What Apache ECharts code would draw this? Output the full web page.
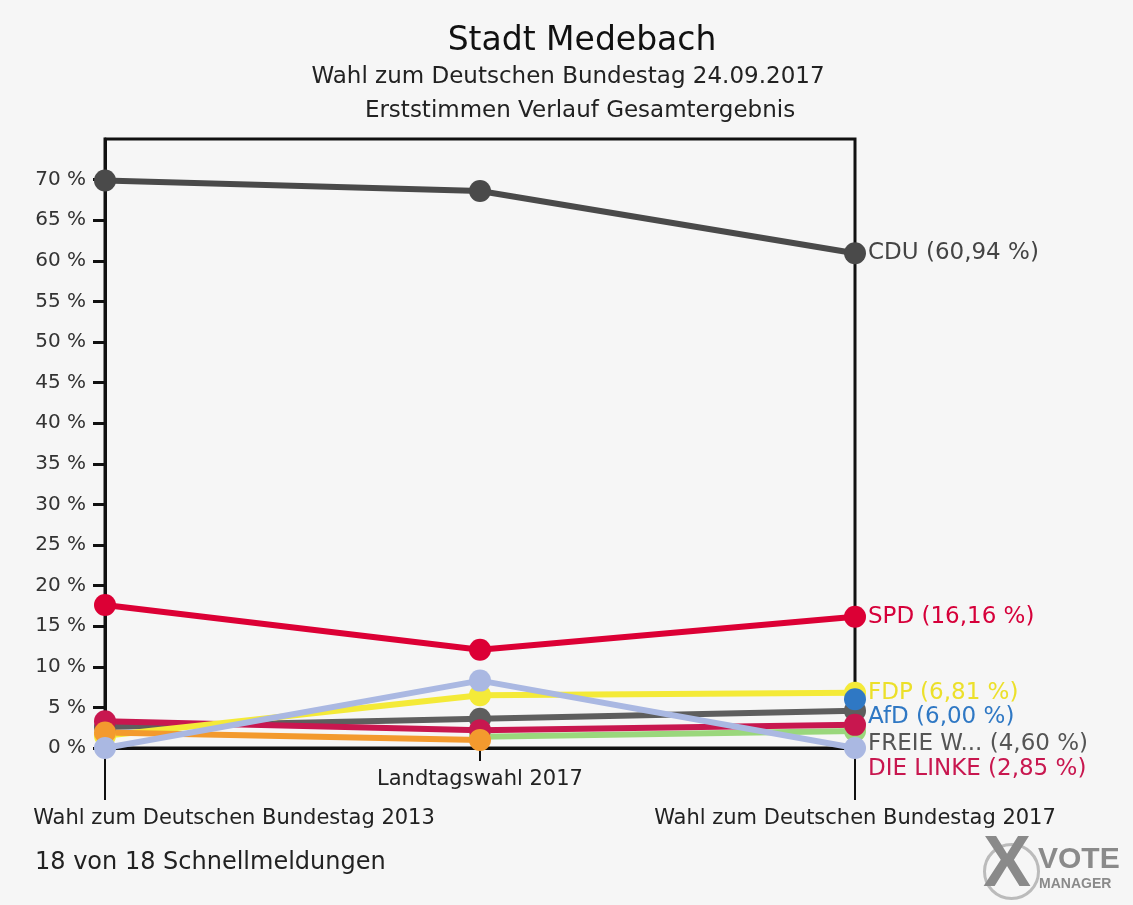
<!DOCTYPE html>
<html>
<head>
<meta charset="utf-8">
<script src="https://cdn.jsdelivr.net/npm/echarts@6/dist/echarts.min.js"></script>
<style>
  html, body { margin: 0; padding: 0; background: #f6f6f6; }
  #main { width: 1133px; height: 905px; }
</style>
</head>
<body>
<div id="main"></div>
<script>
// Wahlen (x-Achse)
var categories = ['Wahl zum Deutschen Bundestag 2013', 'Landtagswahl 2017', 'Wahl zum Deutschen Bundestag 2017'];
var yTicks = [0, 5, 10, 15, 20, 25, 30, 35, 40, 45, 50, 55, 60, 65, 70];

// Erststimmen in %
var cdu      = [69.9, 68.6, 60.94];
var spd      = [17.6, 12.1, 16.16];
var gruene   = [null, 1.4, 2.1];
var freieW   = [2.6, 3.6, 4.60];
var linke    = [3.3, 2.2, 2.85];
var fdp      = [1.5, 6.5, 6.81];
var afd      = [null, null, 6.00];
var orange   = [1.9, 1.0, null];
var piraten  = [0, 8.3, 0];

var myChart = echarts.init(document.getElementById('main'));
var font = 'DejaVu Sans, Liberation Sans, sans-serif';

function fmt(v) {
    return v.toFixed(2).replace('.', ',') + ' %';
}

function line(name, data, color, labelName, labelColor, offsetY) {
    var s = {
        name: name,
        type: 'line',
        data: data,
        symbol: 'circle',
        symbolSize: 22,
        lineStyle: { color: color, width: 6 },
        itemStyle: { color: color },
        connectNulls: false,
        animation: false
    };
    if (labelName) {
        s.endLabel = {
            show: true,
            formatter: function (p) { return labelName + ' (' + fmt(p.value) + ')'; },
            color: labelColor || color,
            fontFamily: font,
            fontSize: 23,
            distance: 13,
            offset: [0, offsetY || 0]
        };
    }
    return s;
}

var option = {
    backgroundColor: '#f6f6f6',
    textStyle: { fontFamily: font },
    title: [{
        text: 'Stadt Medebach',
        left: 577, top: 20, textAlign: 'center',
        textStyle: { fontSize: 33, fontWeight: 'normal', color: '#111', fontFamily: font }
    }, {
        text: 'Wahl zum Deutschen Bundestag 24.09.2017',
        left: 563, top: 61, textAlign: 'center',
        textStyle: { fontSize: 23, fontWeight: 'normal', color: '#222', fontFamily: font }
    }, {
        text: 'Erststimmen Verlauf Gesamtergebnis',
        left: 575, top: 95, textAlign: 'center',
        textStyle: { fontSize: 23, fontWeight: 'normal', color: '#222', fontFamily: font }
    }, {
        text: '18 von 18 Schnellmeldungen',
        left: 30, top: 846,
        textStyle: { fontSize: 24, fontWeight: 'normal', color: '#222', fontFamily: font }
    }],
    grid: {
        left: 105, right: 278, top: 139, bottom: 157,
        outerBoundsMode: 'none', containLabel: false,
        show: true, borderColor: '#111', borderWidth: 3, backgroundColor: 'transparent'
    },
    xAxis: [{
        type: 'category',
        data: categories,
        boundaryGap: false,
        axisLine: { lineStyle: { color: '#111', width: 3 } },
        axisTick: {
            interval: function (i) { return i === 1; },
            length: 13, lineStyle: { color: '#111', width: 2 }
        },
        axisLabel: {
            interval: function (i) { return i === 1; },
            margin: 21, color: '#222', fontSize: 21, fontFamily: font
        }
    }, {
        type: 'category',
        data: categories,
        boundaryGap: false,
        position: 'bottom',
        axisLine: { show: false },
        axisTick: {
            interval: function (i) { return i !== 1; },
            length: 52, lineStyle: { color: '#111', width: 2 }
        },
        axisLabel: {
            interval: function (i) { return i !== 1; },
            margin: 60, color: '#222', fontSize: 21, fontFamily: font,
            formatter: function (v, i) {
                return i === 0 ? '{sp|}{t|' + v + '}' : '{t|' + v + '}';
            },
            rich: {
                sp: { width: 258 },
                t: { color: '#222', fontSize: 21, fontFamily: font }
            }
        }
    }],
    yAxis: {
        type: 'value',
        min: 0, max: 75, interval: 5,
        splitLine: { show: false },
        axisLine: { show: true, lineStyle: { color: '#111', width: 3 } },
        axisTick: { show: true, customValues: yTicks, length: 12, lineStyle: { color: '#111', width: 3 } },
        axisLabel: {
            customValues: yTicks,
            formatter: '{value} %',
            margin: 19, color: '#333', fontSize: 20, fontFamily: font
        }
    },
    series: [
        line('CDU', cdu, '#4a4a4a', 'CDU', '#444'),
        line('SPD', spd, '#dc0035', 'SPD', '#d6003a'),
        line('GRÜNE', gruene, '#9ad77c'),
        line('FREIE WÄHLER', freieW, '#5e5e5e', 'FREIE W...', '#555', 33),
        line('DIE LINKE', linke, '#c8174f', 'DIE LINKE', '#c8174f', 44),
        line('FDP', fdp, '#f4ea38', 'FDP', '#ece02a', 0),
        line('AfD', afd, '#2f78c4', 'AfD', '#2f78c4', 18),
        line('Sonstige', orange, '#f39a2e'),
        line('PIRATEN', piraten, '#aab8e2')
    ],
    graphic: [{
        type: 'circle', left: 982, top: 842,
        shape: { r: 27 },
        style: { fill: 'none', stroke: '#bbb', lineWidth: 3 }
    }, {
        type: 'text', left: 983, top: 830,
        style: { text: 'X', font: 'bold 72px Liberation Sans, sans-serif', fill: '#8a8a8a' }
    }, {
        type: 'text', left: 1038, top: 845,
        style: { text: 'VOTE', font: 'bold 30px Liberation Sans, sans-serif', fill: '#8a8a8a' }
    }, {
        type: 'text', left: 1039, top: 877,
        style: { text: 'MANAGER', font: 'bold 14px Liberation Sans, sans-serif', fill: '#8a8a8a' }
    }]
};

myChart.setOption(option);
</script>
</body>
</html>
